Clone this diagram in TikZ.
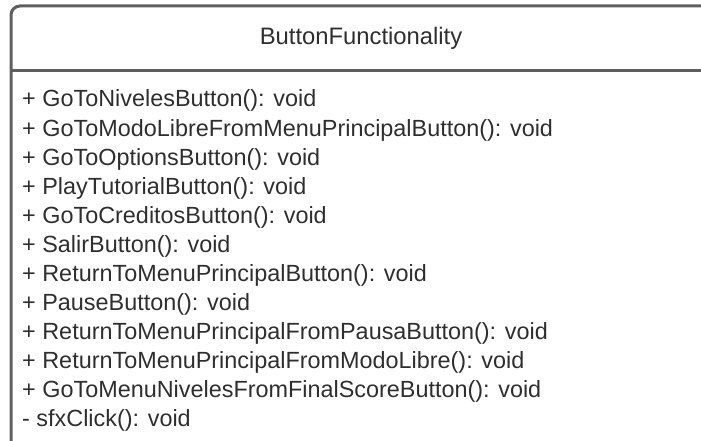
\documentclass[tikz,border=0pt]{standalone}
\usepackage{fontspec}
\setmainfont{Liberation Sans}
\definecolor{frame}{HTML}{5F5F5F}
\definecolor{ink}{HTML}{2E2E2E}
\begin{document}
\begin{tikzpicture}[x=1pt,y=-1pt,
  member/.style={anchor=base west,inner sep=0pt,text=ink,font=\fontsize{23.4}{29}\selectfont},
  title/.style={anchor=base,inner sep=0pt,text=ink,font=\fontsize{23.8}{29}\selectfont},
  boxline/.style={draw=frame,line width=3pt}]
\useasboundingbox (0,0) rectangle (701,441);
% class box, running past the right and bottom edges
\draw[boxline,rounded corners=9pt] (11,460) -- (11,6) -- (720,6) -- (720,460);
\draw[boxline] (11,71) -- (720,71);
\node[title] (cls) at (361,45) {ButtonFunctionality};
% operations
\foreach \t [count=\i from 0] in {
  + GoToNivelesButton(): void,
  + GoToModoLibreFromMenuPrincipalButton(): void,
  + GoToOptionsButton(): void,
  + PlayTutorialButton(): void,
  + GoToCreditosButton(): void,
  + SalirButton(): void,
  + ReturnToMenuPrincipalButton(): void,
  + PauseButton(): void,
  + ReturnToMenuPrincipalFromPausaButton(): void,
  + ReturnToMenuPrincipalFromModoLibre(): void,
  + GoToMenuNivelesFromFinalScoreButton(): void,
  - sfxClick(): void}
  \node[member] (op\i) at (22,{107+29.0*\i}) {\t};
\end{tikzpicture}
\end{document}
